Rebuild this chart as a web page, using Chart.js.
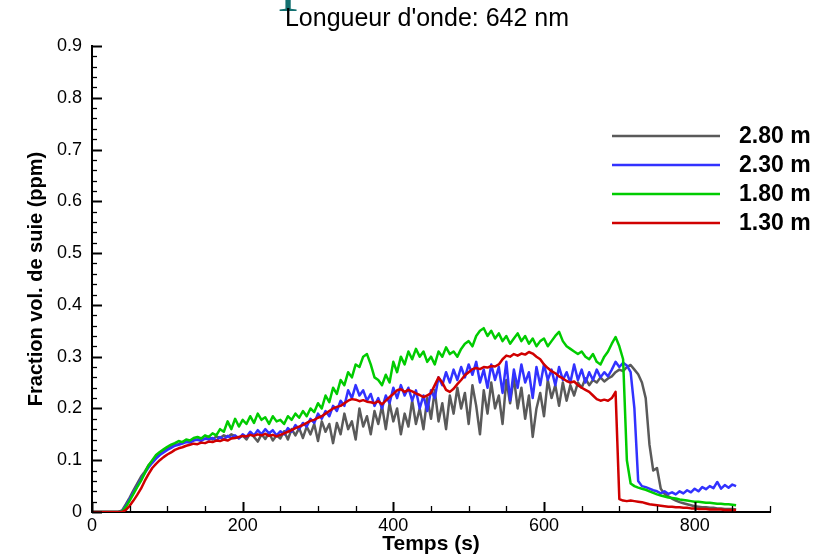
<!DOCTYPE html>
<html lang="fr">
<head>
    <meta charset="UTF-8">
    <title>Fraction vol. de suie</title>
    <script src="https://cdn.jsdelivr.net/npm/chart.js"></script>
    <style>
        html, body { margin: 0; padding: 0; background: #fff; }
        canvas { display: block; }
    </style>
</head>
<body>
    <canvas id="sootChart" width="823" height="559"></canvas>

    <script>
        const chartTitle = "Longueur d'onde: 642 nm";
        const xTitle = 'Temps (s)';
        const yTitle = 'Fraction vol. de suie (ppm)';
        const xTicks = [0, 200, 400, 600, 800];
        const yTicks = [0, 0.1, 0.2, 0.3, 0.4, 0.5, 0.6, 0.7, 0.8, 0.9];

        // one row = 50 s
        const temps = [
            0, 5, 10, 15, 20, 25, 30, 35, 40, 45,
            50, 55, 60, 65, 70, 75, 80, 85, 90, 95,
            100, 105, 110, 115, 120, 125, 130, 135, 140, 145,
            150, 155, 160, 165, 170, 175, 180, 185, 190, 195,
            200, 205, 210, 215, 220, 225, 230, 235, 240, 245,
            250, 255, 260, 265, 270, 275, 280, 285, 290, 295,
            300, 305, 310, 315, 320, 325, 330, 335, 340, 345,
            350, 355, 360, 365, 370, 375, 380, 385, 390, 395,
            400, 405, 410, 415, 420, 425, 430, 435, 440, 445,
            450, 455, 460, 465, 470, 475, 480, 485, 490, 495,
            500, 505, 510, 515, 520, 525, 530, 535, 540, 545,
            550, 555, 560, 565, 570, 575, 580, 585, 590, 595,
            600, 605, 610, 615, 620, 625, 630, 635, 640, 645,
            650, 655, 660, 665, 670, 675, 680, 685, 690, 695,
            700, 705, 710, 715, 720, 725, 730, 735, 740, 745,
            750, 755, 760, 765, 770, 775, 780, 785, 790, 795,
            800, 805, 810, 815, 820, 825, 830, 835, 840, 845,
            850, 855
        ];

        const h280 = [
            0, 0, 0, 0, 0, 0, 0, 0, 0.003, 0.015,
            0.028, 0.042, 0.055, 0.068, 0.078, 0.09, 0.098, 0.105, 0.112, 0.118,
            0.122, 0.126, 0.13, 0.131, 0.135, 0.137, 0.136, 0.14, 0.139, 0.142,
            0.141, 0.144, 0.14, 0.146, 0.143, 0.148, 0.145, 0.15, 0.146, 0.143,
            0.148, 0.14, 0.152, 0.145, 0.136, 0.15, 0.141, 0.153, 0.138, 0.148,
            0.142, 0.156, 0.14, 0.16, 0.148, 0.162, 0.143, 0.165, 0.15, 0.17,
            0.137, 0.175, 0.155, 0.17, 0.133, 0.172, 0.15, 0.19, 0.16, 0.175,
            0.14, 0.2, 0.165, 0.185, 0.15, 0.195, 0.17, 0.205, 0.16, 0.21,
            0.175, 0.2, 0.15, 0.19, 0.165, 0.215, 0.17, 0.2, 0.16, 0.22,
            0.18, 0.235, 0.175, 0.21, 0.16, 0.225, 0.19, 0.24, 0.2, 0.23,
            0.17, 0.245, 0.205, 0.15, 0.235, 0.19, 0.25, 0.2, 0.225, 0.17,
            0.255, 0.21, 0.26, 0.2, 0.24, 0.18, 0.225, 0.145, 0.2, 0.23,
            0.185, 0.255, 0.22, 0.245, 0.205, 0.25, 0.215, 0.245, 0.225, 0.25,
            0.24, 0.258, 0.245, 0.255, 0.25, 0.26, 0.252, 0.258, 0.262, 0.27,
            0.275, 0.272, 0.28, 0.284, 0.275, 0.266, 0.25, 0.22, 0.13, 0.08,
            0.085, 0.045, 0.035, 0.03, 0.026, 0.022, 0.019, 0.017, 0.015, 0.013,
            0.011, 0.01, 0.009, 0.009, 0.008, 0.008, 0.007, 0.007, 0.006, 0.006,
            0.006, 0.005
        ];

        const h230 = [
            0, 0, 0, 0, 0, 0, 0, 0, 0.002, 0.012,
            0.025, 0.038, 0.05, 0.063, 0.075, 0.086, 0.095, 0.103, 0.11, 0.115,
            0.12, 0.124, 0.128, 0.13, 0.132, 0.135, 0.134, 0.138, 0.14, 0.137,
            0.142, 0.14, 0.143, 0.138, 0.145, 0.14, 0.147, 0.143, 0.148, 0.142,
            0.15, 0.145, 0.155, 0.148, 0.158, 0.15, 0.16, 0.152, 0.158, 0.148,
            0.156, 0.15, 0.162, 0.155, 0.168, 0.16, 0.172, 0.165, 0.18, 0.172,
            0.19, 0.18, 0.195, 0.185, 0.205, 0.195, 0.215, 0.205, 0.235, 0.22,
            0.245, 0.225, 0.235, 0.215, 0.228, 0.205, 0.22, 0.2, 0.225, 0.21,
            0.24, 0.22, 0.245, 0.225, 0.24, 0.215, 0.235, 0.2, 0.225, 0.195,
            0.235, 0.22, 0.26, 0.245, 0.27, 0.25, 0.275, 0.255, 0.28, 0.26,
            0.285, 0.265, 0.29, 0.25, 0.275, 0.24, 0.285, 0.255, 0.28, 0.23,
            0.29, 0.215, 0.275, 0.24, 0.285, 0.25, 0.27, 0.22, 0.28, 0.245,
            0.285, 0.255, 0.275, 0.245, 0.28, 0.255, 0.27, 0.25, 0.285, 0.255,
            0.275, 0.25, 0.27, 0.255, 0.275, 0.26, 0.27, 0.262, 0.275, 0.29,
            0.28, 0.288, 0.283, 0.27, 0.2, 0.06, 0.05, 0.048, 0.045, 0.042,
            0.04, 0.036, 0.04, 0.035, 0.038, 0.034, 0.04, 0.036, 0.042, 0.038,
            0.045, 0.04, 0.048, 0.044, 0.05, 0.046, 0.058, 0.045, 0.052, 0.047,
            0.053, 0.05
        ];

        const h180 = [
            0, 0, 0, 0, 0, 0, 0, 0, 0.001, 0.01,
            0.022, 0.035, 0.048, 0.06, 0.075, 0.09, 0.1, 0.11, 0.116, 0.121,
            0.126, 0.13, 0.133, 0.137, 0.135, 0.14, 0.138, 0.143, 0.145, 0.142,
            0.148, 0.145, 0.152, 0.148, 0.16, 0.155, 0.175, 0.16, 0.18, 0.165,
            0.178, 0.17, 0.185, 0.172, 0.19, 0.178, 0.183, 0.17, 0.185, 0.175,
            0.178, 0.17, 0.185, 0.178, 0.19, 0.182, 0.195, 0.185, 0.2, 0.193,
            0.21, 0.2, 0.225, 0.212, 0.24, 0.228, 0.255, 0.245, 0.27, 0.26,
            0.285, 0.28, 0.3, 0.305, 0.285, 0.26, 0.255, 0.245, 0.265, 0.25,
            0.29, 0.27, 0.3, 0.285, 0.31, 0.295, 0.315, 0.3, 0.31, 0.29,
            0.3, 0.285, 0.31, 0.3, 0.318, 0.305, 0.31, 0.3, 0.315, 0.325,
            0.33, 0.32, 0.34, 0.35, 0.355, 0.34, 0.35, 0.335, 0.345, 0.33,
            0.34, 0.325, 0.335, 0.345, 0.33, 0.34, 0.325, 0.335, 0.32, 0.33,
            0.335, 0.32, 0.33, 0.34, 0.348, 0.33, 0.32, 0.315, 0.31, 0.305,
            0.31, 0.3, 0.295, 0.305, 0.29, 0.285, 0.3, 0.31, 0.325, 0.338,
            0.32, 0.295, 0.1, 0.055, 0.05, 0.047, 0.045, 0.043, 0.04, 0.037,
            0.034, 0.032, 0.03, 0.028, 0.027, 0.026, 0.024, 0.023, 0.022, 0.021,
            0.02, 0.02, 0.019, 0.018, 0.018, 0.017, 0.016, 0.016, 0.015, 0.015,
            0.014, 0.013
        ];

        const h130 = [
            0, 0, 0, 0, 0, 0, 0, 0, 0, 0.004,
            0.012, 0.022, 0.033, 0.045, 0.06, 0.073, 0.085, 0.093, 0.1, 0.106,
            0.111, 0.115, 0.12, 0.123, 0.125, 0.128, 0.13, 0.132, 0.131, 0.134,
            0.133, 0.136, 0.135, 0.138, 0.137, 0.14, 0.138, 0.142, 0.143, 0.145,
            0.147, 0.146, 0.149, 0.147, 0.15, 0.148, 0.151, 0.147, 0.149, 0.146,
            0.149, 0.152, 0.155, 0.158, 0.162, 0.165, 0.168, 0.172, 0.176, 0.178,
            0.182, 0.185, 0.19, 0.195, 0.2, 0.203, 0.205, 0.21, 0.215, 0.218,
            0.217, 0.214, 0.216, 0.213, 0.212, 0.21, 0.214, 0.208, 0.215, 0.222,
            0.228, 0.235, 0.237, 0.232, 0.236, 0.233, 0.229, 0.226, 0.222, 0.225,
            0.23, 0.245, 0.26, 0.25, 0.236, 0.232, 0.238, 0.247, 0.255, 0.264,
            0.27, 0.276, 0.278, 0.276, 0.28, 0.279, 0.282, 0.281, 0.285, 0.295,
            0.302, 0.3, 0.305, 0.302, 0.306, 0.304, 0.309, 0.306, 0.3, 0.295,
            0.285, 0.278, 0.272, 0.268, 0.262, 0.258, 0.253, 0.25, 0.252, 0.245,
            0.24, 0.236, 0.232, 0.225, 0.218, 0.215, 0.217, 0.215, 0.22, 0.232,
            0.025, 0.022, 0.021, 0.022, 0.021, 0.02, 0.019, 0.017, 0.015, 0.014,
            0.013, 0.012, 0.011, 0.01, 0.01, 0.009, 0.009, 0.008, 0.008, 0.007,
            0.007, 0.006, 0.006, 0.006, 0.005, 0.005, 0.005, 0.005, 0.004, 0.004,
            0.004, 0.004
        ];

        const seriesLabels = ['2.80 m', '2.30 m', '1.80 m', '1.30 m'];
        const seriesData = [h280, h230, h180, h130];
        const seriesColors = ['#5a5a5a', '#3232ff', '#00cc00', '#d00000'];

        const font = "'Liberation Sans', Arial, sans-serif";

        const toPoints = (values) => values.map((v, i) => ({ x: temps[i], y: v }));

        // inward tick marks, title and legend
        const decorations = {
            id: 'decorations',
            afterDraw(chart) {
                const ctx = chart.ctx;
                const xs = chart.scales.x;
                const ys = chart.scales.y;
                const area = chart.chartArea;
                ctx.save();
                ctx.strokeStyle = '#000';

                // y ticks
                for (let k = 0; k <= 45; k++) {
                    const v = k * 0.02;
                    const major = k % 5 === 0;
                    const py = Math.round(ys.getPixelForValue(v)) + 0.5;
                    ctx.lineWidth = major ? 2 : 1.3;
                    ctx.beginPath();
                    ctx.moveTo(area.left, py);
                    ctx.lineTo(area.left + (major ? 10 : 5), py);
                    ctx.stroke();
                }
                // x ticks
                for (let k = 0; k <= 18; k++) {
                    const v = k * 50;
                    const major = k % 4 === 0;
                    const px = Math.round(xs.getPixelForValue(v)) + 0.5;
                    ctx.lineWidth = major ? 2 : 1.3;
                    ctx.beginPath();
                    ctx.moveTo(px, area.bottom);
                    ctx.lineTo(px, area.bottom - (major ? 10 : 6));
                    ctx.stroke();
                }

                // clipped teal glyph above the title
                ctx.fillStyle = '#137070';
                ctx.font = "56px 'Liberation Serif', serif";
                ctx.textAlign = 'center';
                ctx.textBaseline = 'alphabetic';
                ctx.fillText('T', 288, 11);

                // title
                ctx.fillStyle = '#000';
                ctx.font = '25px ' + font;
                ctx.textBaseline = 'middle';
                ctx.fillText(chartTitle, 427, 19);

                // legend
                ctx.textAlign = 'left';
                ctx.font = 'bold 23px ' + font;
                seriesLabels.forEach((label, i) => {
                    const y = 136 + i * 29;
                    ctx.strokeStyle = seriesColors[i];
                    ctx.lineWidth = 2.5;
                    ctx.beginPath();
                    ctx.moveTo(612, y);
                    ctx.lineTo(720, y);
                    ctx.stroke();
                    ctx.fillStyle = '#000';
                    ctx.fillText(label, 739, y + 1);
                });
                ctx.restore();
            }
        };

        const chart = new Chart(document.getElementById('sootChart'), {
            type: 'line',
            data: {
                datasets: seriesData.map((values, i) => ({
                    label: seriesLabels[i],
                    data: toPoints(values),
                    borderColor: seriesColors[i],
                    borderWidth: 2.5,
                    borderJoinStyle: 'round',
                    pointRadius: 0,
                    fill: false,
                    tension: 0,
                    order: 4 - i,
                })),
            },
            options: {
                responsive: false,
                animation: false,
                events: [],
                layout: { padding: { top: 46, right: 53, left: 0, bottom: 0 } },
                plugins: {
                    legend: { display: false },
                    title: { display: false },
                    tooltip: { enabled: false },
                },
                scales: {
                    x: {
                        type: 'linear',
                        min: 0,
                        max: 900,
                        afterBuildTicks: (scale) => { scale.ticks = xTicks.map(v => ({ value: v })); },
                        afterFit: (scale) => { scale.height = 47; },
                        grid: { display: false, drawTicks: false, tickLength: 0 },
                        border: { display: true, color: '#000', width: 2 },
                        ticks: {
                            color: '#000',
                            padding: 3,
                            maxRotation: 0,
                            autoSkip: false,
                            font: { family: font, size: 18 },
                            callback: (v) => String(v),
                        },
                        title: {
                            display: true,
                            text: xTitle,
                            color: '#000',
                            font: { family: font, size: 21, weight: 'bold' },
                            padding: { top: 0, bottom: 2 },
                        },
                    },
                    y: {
                        type: 'linear',
                        min: 0,
                        max: 0.9,
                        afterBuildTicks: (scale) => { scale.ticks = yTicks.map(v => ({ value: v })); },
                        afterFit: (scale) => { scale.width = 92; },
                        grid: { display: false, drawTicks: false, tickLength: 0 },
                        border: { display: true, color: '#000', width: 2 },
                        ticks: {
                            color: '#000',
                            padding: 10,
                            autoSkip: false,
                            font: { family: font, size: 18 },
                            callback: (v) => String(v),
                        },
                        title: {
                            display: true,
                            text: yTitle,
                            color: '#000',
                            font: { family: font, size: 20, weight: 'bold' },
                            padding: { top: 24, bottom: 0 },
                        },
                    },
                },
            },
            plugins: [decorations],
        });
    </script>
</body>
</html>
